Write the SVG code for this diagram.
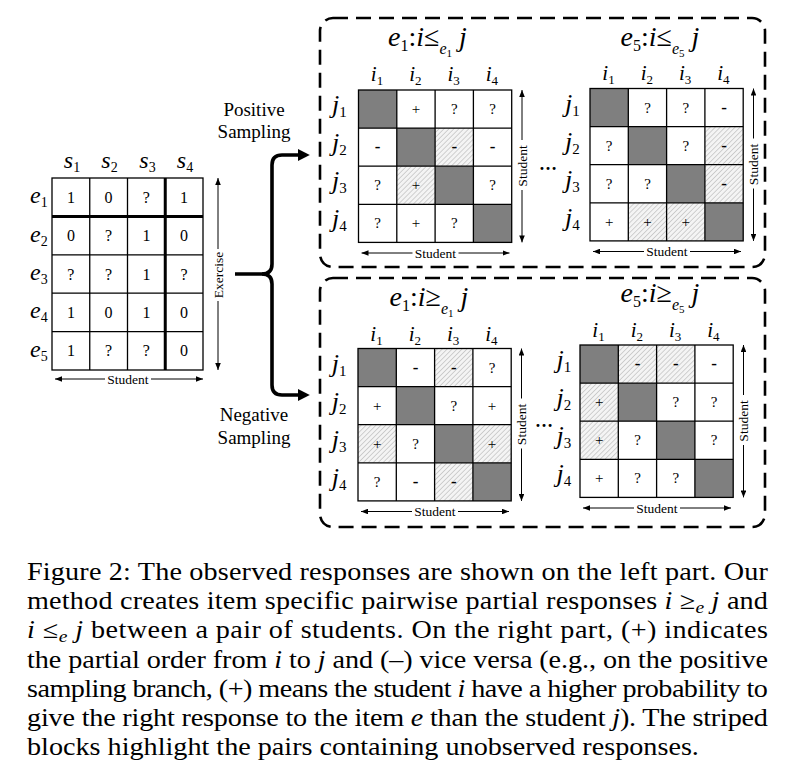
<svg xmlns="http://www.w3.org/2000/svg" xmlns:xlink="http://www.w3.org/1999/xlink" width="790" height="778" viewBox="0 0 790 778">
<style>
.t{font-family:"Liberation Serif","Times New Roman",serif;fill:#000}
.it{font-style:italic}
.s{font-family:"Liberation Serif","Times New Roman",serif;font-size:15px;text-anchor:middle}
.m{font-family:"Liberation Serif","Times New Roman",serif;font-size:17px;font-weight:bold;text-anchor:middle}
.v{font-family:"Liberation Serif","Times New Roman",serif;font-size:16px;text-anchor:middle}
.ax{stroke:#000;stroke-width:1;fill:none;marker-start:url(#ah);marker-end:url(#ah)}
.lbl{font-family:"Liberation Serif","Times New Roman",serif;font-size:13.5px;text-anchor:middle}
.gl{stroke:#000;stroke-width:1.3;fill:none}
.dark{fill:#7f7f7f}
.hat{fill:url(#hatch)}
.box{fill:none;stroke:#000;stroke-width:2.6;stroke-dasharray:15 8}
.cap{font-family:"Liberation Serif","Times New Roman",serif;font-size:24.5px}
</style>
<defs>
<pattern id="hatch" patternUnits="userSpaceOnUse" width="3.5" height="3.5" patternTransform="rotate(45)">
<rect width="3.5" height="3.5" fill="#f4f4f4"/>
<line x1="0" y1="0" x2="0" y2="3.5" stroke="#bcbcbc" stroke-width="1.3"/>
</pattern>
<marker id="ah" viewBox="0 0 10 8" refX="10" refY="4" markerWidth="7" markerHeight="5.6" markerUnits="userSpaceOnUse" orient="auto-start-reverse">
<path d="M0,0 L10,4 L0,8 z" fill="#000"/>
</marker>
<marker id="bah" viewBox="0 0 10 10" refX="1" refY="5" markerWidth="12" markerHeight="12" markerUnits="userSpaceOnUse" orient="auto">
<path d="M0,0 L10,5 L0,10 z" fill="#000"/>
</marker>
<g id="diag4">
<rect class="dark" x="0" y="0" width="38.3" height="38.1"/>
<rect class="dark" x="38.3" y="38.1" width="38.3" height="38.1"/>
<rect class="dark" x="76.6" y="76.2" width="38.3" height="38.1"/>
<rect class="dark" x="114.9" y="114.3" width="38.3" height="38.1"/>
</g>
<g id="grid4">
<rect class="gl" x="0" y="0" width="153.2" height="152.4"/>
<path class="gl" d="M38.3,0V152.4M76.6,0V152.4M114.9,0V152.4M0,38.1H153.2M0,76.2H153.2M0,114.3H153.2"/>
</g>
<g id="axes4">
<line class="ax" x1="163.5" y1="0" x2="163.5" y2="152.4"/>
<line class="ax" x1="3" y1="163" x2="151" y2="163"/>
<rect x="142" y="50" width="14" height="50" fill="#fff" transform="translate(14.5,0)"/>
<rect x="54" y="156" width="46" height="14" fill="#fff"/>
<text class="lbl" transform="translate(163.5,76) rotate(-90)" x="0" y="4.5">Student</text>
<text class="lbl" x="77" y="167.5">Student</text>
</g>
</defs>
<rect width="790" height="778" fill="#fff"/>

<g id="observed-matrix" transform="translate(52,178)">
<rect class="gl" x="0" y="0" width="151" height="192"/>
<path class="gl" d="M37.75,0V192M75.5,0V192M0,76.8H151M0,115.2H151M0,153.6H151"/>
<path d="M113.25,0V192M0,38.4H151" stroke="#000" stroke-width="3" fill="none"/>
<g class="v">
<text x="18.9" y="24.7">1</text><text x="56.6" y="24.7">0</text><text x="94.4" y="24.7">?</text><text x="132.1" y="24.7">1</text>
<text x="18.9" y="63.1">0</text><text x="56.6" y="63.1">?</text><text x="94.4" y="63.1">1</text><text x="132.1" y="63.1">0</text>
<text x="18.9" y="101.5">?</text><text x="56.6" y="101.5">?</text><text x="94.4" y="101.5">1</text><text x="132.1" y="101.5">?</text>
<text x="18.9" y="139.9">1</text><text x="56.6" y="139.9">0</text><text x="94.4" y="139.9">1</text><text x="132.1" y="139.9">0</text>
<text x="18.9" y="178.3">1</text><text x="56.6" y="178.3">?</text><text x="94.4" y="178.3">?</text><text x="132.1" y="178.3">0</text>
</g>
<g class="t" font-size="24" text-anchor="middle">
<text x="20" y="-10"><tspan class="it">s</tspan><tspan font-size="14" dy="4">1</tspan></text>
<text x="57.5" y="-10"><tspan class="it">s</tspan><tspan font-size="14" dy="4">2</tspan></text>
<text x="95.5" y="-10"><tspan class="it">s</tspan><tspan font-size="14" dy="4">3</tspan></text>
<text x="133" y="-10"><tspan class="it">s</tspan><tspan font-size="14" dy="4">4</tspan></text>
</g>
<g class="t" font-size="24">
<text x="-22" y="25.2"><tspan class="it">e</tspan><tspan font-size="14" dy="4">1</tspan></text>
<text x="-22" y="63.6"><tspan class="it">e</tspan><tspan font-size="14" dy="4">2</tspan></text>
<text x="-22" y="102"><tspan class="it">e</tspan><tspan font-size="14" dy="4">3</tspan></text>
<text x="-22" y="140.4"><tspan class="it">e</tspan><tspan font-size="14" dy="4">4</tspan></text>
<text x="-22" y="178.8"><tspan class="it">e</tspan><tspan font-size="14" dy="4">5</tspan></text>
</g>
<line class="ax" x1="166" y1="0" x2="166" y2="192"/>
<rect x="159" y="71" width="14" height="52" fill="#fff"/>
<text class="lbl" transform="translate(166,97) rotate(-90)" x="0" y="4.5">Exercise</text>
<line class="ax" x1="3" y1="201" x2="151" y2="201"/>
<rect x="53" y="194" width="46" height="14" fill="#fff"/>
<text class="lbl" x="76" y="205.5">Student</text>
</g>

<g id="connectors">
<path d="M235,274 H262 Q272,274 272,264 V165 Q272,155 282,155 H299" fill="none" stroke="#000" stroke-width="3.6" stroke-linejoin="round" marker-end="url(#bah)"/>
<path d="M262,274 Q272,274 272,284 V385 Q272,395 282,395 H299" fill="none" stroke="#000" stroke-width="3.6" stroke-linejoin="round" marker-end="url(#bah)"/>
</g>

<g id="label-positive" class="t" font-size="19" text-anchor="middle">
<text x="254" y="116">Positive</text>
<text x="254" y="138">Sampling</text>
</g>
<g id="label-negative" class="t" font-size="19" text-anchor="middle">
<text x="254" y="421">Negative</text>
<text x="254" y="444">Sampling</text>
</g>

<g id="positive-box">
<rect class="box" x="320" y="18" width="445" height="249" rx="13"/>
</g>
<g id="negative-box">
<rect class="box" x="320" y="278" width="445" height="249" rx="13"/>
</g>

<g id="title-pos-e1"><text class="t" x="427.5" y="46" font-size="28" text-anchor="middle"><tspan class="it">e</tspan><tspan font-size="16" dy="5">1</tspan><tspan dy="-5">:</tspan><tspan class="it">i</tspan><tspan>≤</tspan><tspan class="it" font-size="16" dy="8">e</tspan><tspan font-size="11" dy="3">1</tspan><tspan class="it" dy="-11"> j</tspan></text></g>
<g id="title-pos-e5"><text class="t" x="660" y="46" font-size="28" text-anchor="middle"><tspan class="it">e</tspan><tspan font-size="16" dy="5">5</tspan><tspan dy="-5">:</tspan><tspan class="it">i</tspan><tspan>≤</tspan><tspan class="it" font-size="16" dy="8">e</tspan><tspan font-size="11" dy="3">5</tspan><tspan class="it" dy="-11"> j</tspan></text></g>
<g id="title-neg-e1"><text class="t" x="429" y="306" font-size="28" text-anchor="middle"><tspan class="it">e</tspan><tspan font-size="16" dy="5">1</tspan><tspan dy="-5">:</tspan><tspan class="it">i</tspan><tspan>≥</tspan><tspan class="it" font-size="16" dy="8">e</tspan><tspan font-size="11" dy="3">1</tspan><tspan class="it" dy="-11"> j</tspan></text></g>
<g id="title-neg-e5"><text class="t" x="660" y="302" font-size="28" text-anchor="middle"><tspan class="it">e</tspan><tspan font-size="16" dy="5">5</tspan><tspan dy="-5">:</tspan><tspan class="it">i</tspan><tspan>≥</tspan><tspan class="it" font-size="16" dy="8">e</tspan><tspan font-size="11" dy="3">5</tspan><tspan class="it" dy="-11"> j</tspan></text></g>

<g id="pos-e1-matrix" transform="translate(358.5,90)">
<use href="#diag4"/>
<rect class="hat" x="76.6" y="38.1" width="38.3" height="38.1"/>
<rect class="hat" x="38.3" y="76.2" width="38.3" height="38.1"/>
<use href="#grid4"/>
<text class="s" x="57.5" y="24.1">+</text><text class="s" x="95.8" y="24.1">?</text><text class="s" x="134.1" y="24.1">?</text>
<text class="m" x="19.2" y="62.2">-</text><text class="m" x="95.8" y="62.2">-</text><text class="m" x="134.1" y="62.2">-</text>
<text class="s" x="19.2" y="100.3">?</text><text class="s" x="57.5" y="100.3">+</text><text class="s" x="134.1" y="100.3">?</text>
<text class="s" x="19.2" y="138.4">?</text><text class="s" x="57.5" y="138.4">+</text><text class="s" x="95.8" y="138.4">?</text>
<g class="t" font-size="21" text-anchor="middle">
<text x="18.5" y="-9"><tspan class="it">i</tspan><tspan font-size="13" dy="4">1</tspan></text>
<text x="56.8" y="-9"><tspan class="it">i</tspan><tspan font-size="13" dy="4">2</tspan></text>
<text x="95.1" y="-9"><tspan class="it">i</tspan><tspan font-size="13" dy="4">3</tspan></text>
<text x="133.4" y="-9"><tspan class="it">i</tspan><tspan font-size="13" dy="4">4</tspan></text>
</g>
<g class="t" font-size="26">
<text x="-26.5" y="23"><tspan class="it">j</tspan><tspan font-size="15" dy="4">1</tspan></text>
<text x="-26.5" y="61"><tspan class="it">j</tspan><tspan font-size="15" dy="4">2</tspan></text>
<text x="-26.5" y="99"><tspan class="it">j</tspan><tspan font-size="15" dy="4">3</tspan></text>
<text x="-26.5" y="137"><tspan class="it">j</tspan><tspan font-size="15" dy="4">4</tspan></text>
</g>
<use href="#axes4"/>
</g>

<g id="pos-e5-matrix" transform="translate(590,88.5)">
<use href="#diag4"/>
<rect class="hat" x="114.9" y="38.1" width="38.3" height="38.1"/>
<rect class="hat" x="114.9" y="76.2" width="38.3" height="38.1"/>
<rect class="hat" x="38.3" y="114.3" width="38.3" height="38.1"/>
<rect class="hat" x="76.6" y="114.3" width="38.3" height="38.1"/>
<use href="#grid4"/>
<text class="s" x="57.5" y="24.1">?</text><text class="s" x="95.8" y="24.1">?</text><text class="m" x="134.1" y="24.1">-</text>
<text class="s" x="19.2" y="62.2">?</text><text class="s" x="95.8" y="62.2">?</text><text class="m" x="134.1" y="62.2">-</text>
<text class="s" x="19.2" y="100.3">?</text><text class="s" x="57.5" y="100.3">?</text><text class="m" x="134.1" y="100.3">-</text>
<text class="s" x="19.2" y="138.4">+</text><text class="s" x="57.5" y="138.4">+</text><text class="s" x="95.8" y="138.4">+</text>
<g class="t" font-size="21" text-anchor="middle">
<text x="18.5" y="-8.5"><tspan class="it">i</tspan><tspan font-size="13" dy="4">1</tspan></text>
<text x="56.8" y="-8.5"><tspan class="it">i</tspan><tspan font-size="13" dy="4">2</tspan></text>
<text x="95.1" y="-8.5"><tspan class="it">i</tspan><tspan font-size="13" dy="4">3</tspan></text>
<text x="133.4" y="-8.5"><tspan class="it">i</tspan><tspan font-size="13" dy="4">4</tspan></text>
</g>
<g class="t" font-size="26">
<text x="-25" y="23"><tspan class="it">j</tspan><tspan font-size="15" dy="4">1</tspan></text>
<text x="-25" y="61"><tspan class="it">j</tspan><tspan font-size="15" dy="4">2</tspan></text>
<text x="-25" y="99"><tspan class="it">j</tspan><tspan font-size="15" dy="4">3</tspan></text>
<text x="-25" y="137"><tspan class="it">j</tspan><tspan font-size="15" dy="4">4</tspan></text>
</g>
<use href="#axes4"/>
</g>

<g id="neg-e1-matrix" transform="translate(358,348.5)">
<use href="#diag4"/>
<rect class="hat" x="76.6" y="0" width="38.3" height="38.1"/>
<rect class="hat" x="0" y="76.2" width="38.3" height="38.1"/>
<rect class="hat" x="114.9" y="76.2" width="38.3" height="38.1"/>
<rect class="hat" x="76.6" y="114.3" width="38.3" height="38.1"/>
<use href="#grid4"/>
<text class="m" x="57.5" y="24.1">-</text><text class="m" x="95.8" y="24.1">-</text><text class="s" x="134.1" y="24.1">?</text>
<text class="s" x="19.2" y="62.2">+</text><text class="s" x="95.8" y="62.2">?</text><text class="s" x="134.1" y="62.2">+</text>
<text class="s" x="19.2" y="100.3">+</text><text class="s" x="57.5" y="100.3">?</text><text class="s" x="134.1" y="100.3">+</text>
<text class="s" x="19.2" y="138.4">?</text><text class="m" x="57.5" y="138.4">-</text><text class="m" x="95.8" y="138.4">-</text>
<g class="t" font-size="21" text-anchor="middle">
<text x="18.5" y="-7.5"><tspan class="it">i</tspan><tspan font-size="13" dy="4">1</tspan></text>
<text x="56.8" y="-7.5"><tspan class="it">i</tspan><tspan font-size="13" dy="4">2</tspan></text>
<text x="95.1" y="-7.5"><tspan class="it">i</tspan><tspan font-size="13" dy="4">3</tspan></text>
<text x="133.4" y="-7.5"><tspan class="it">i</tspan><tspan font-size="13" dy="4">4</tspan></text>
</g>
<g class="t" font-size="26">
<text x="-26.3" y="23"><tspan class="it">j</tspan><tspan font-size="15" dy="4">1</tspan></text>
<text x="-26.3" y="61"><tspan class="it">j</tspan><tspan font-size="15" dy="4">2</tspan></text>
<text x="-26.3" y="99"><tspan class="it">j</tspan><tspan font-size="15" dy="4">3</tspan></text>
<text x="-26.3" y="137"><tspan class="it">j</tspan><tspan font-size="15" dy="4">4</tspan></text>
</g>
<use href="#axes4"/>
</g>

<g id="neg-e5-matrix" transform="translate(580,345)">
<use href="#diag4"/>
<rect class="hat" x="38.3" y="0" width="38.3" height="38.1"/>
<rect class="hat" x="76.6" y="0" width="38.3" height="38.1"/>
<rect class="hat" x="0" y="38.1" width="38.3" height="38.1"/>
<rect class="hat" x="0" y="76.2" width="38.3" height="38.1"/>
<use href="#grid4"/>
<text class="m" x="57.5" y="24.1">-</text><text class="m" x="95.8" y="24.1">-</text><text class="m" x="134.1" y="24.1">-</text>
<text class="s" x="19.2" y="62.2">+</text><text class="s" x="95.8" y="62.2">?</text><text class="s" x="134.1" y="62.2">?</text>
<text class="s" x="19.2" y="100.3">+</text><text class="s" x="57.5" y="100.3">?</text><text class="s" x="134.1" y="100.3">?</text>
<text class="s" x="19.2" y="138.4">+</text><text class="s" x="57.5" y="138.4">?</text><text class="s" x="95.8" y="138.4">?</text>
<g class="t" font-size="21" text-anchor="middle">
<text x="18.5" y="-8.3"><tspan class="it">i</tspan><tspan font-size="13" dy="4">1</tspan></text>
<text x="56.8" y="-8.3"><tspan class="it">i</tspan><tspan font-size="13" dy="4">2</tspan></text>
<text x="95.1" y="-8.3"><tspan class="it">i</tspan><tspan font-size="13" dy="4">3</tspan></text>
<text x="133.4" y="-8.3"><tspan class="it">i</tspan><tspan font-size="13" dy="4">4</tspan></text>
</g>
<g class="t" font-size="26">
<text x="-23.5" y="23"><tspan class="it">j</tspan><tspan font-size="15" dy="4">1</tspan></text>
<text x="-23.5" y="61"><tspan class="it">j</tspan><tspan font-size="15" dy="4">2</tspan></text>
<text x="-23.5" y="99"><tspan class="it">j</tspan><tspan font-size="15" dy="4">3</tspan></text>
<text x="-23.5" y="137"><tspan class="it">j</tspan><tspan font-size="15" dy="4">4</tspan></text>
</g>
<use href="#axes4"/>
</g>

<g id="ellipsis-pos"><text class="t" x="548" y="170" font-size="18" font-weight="bold" text-anchor="middle">…</text></g>
<g id="ellipsis-neg"><text class="t" x="544" y="427" font-size="18" font-weight="bold" text-anchor="middle">…</text></g>

<g id="caption" transform="scale(1.15,1)">
<text class="cap" x="23.5" y="580" textLength="644.3" lengthAdjust="spacing">Figure 2: The observed responses are shown on the left part. Our</text>
<text class="cap" x="23.5" y="609.2" textLength="644.3" lengthAdjust="spacing">method creates item specific pairwise partial responses <tspan class="it">i</tspan> ≥<tspan class="it" font-size="17" dy="4">e</tspan><tspan dy="-4"> </tspan><tspan class="it">j</tspan> and</text>
<text class="cap" x="23.5" y="638.4" textLength="644.3" lengthAdjust="spacing"><tspan class="it">i</tspan> ≤<tspan class="it" font-size="17" dy="4">e</tspan><tspan dy="-4"> </tspan><tspan class="it">j</tspan> between a pair of students. On the right part, (+) indicates</text>
<text class="cap" x="23.5" y="667.6" textLength="644.3" lengthAdjust="spacing">the partial order from <tspan class="it">i</tspan> to <tspan class="it">j</tspan> and (–) vice versa (e.g., on the positive</text>
<text class="cap" x="23.5" y="696.8" textLength="644.3" lengthAdjust="spacing">sampling branch, (+) means the student <tspan class="it">i</tspan> have a higher probability to</text>
<text class="cap" x="23.5" y="726" textLength="644.3" lengthAdjust="spacing">give the right response to the item <tspan class="it">e</tspan> than the student <tspan class="it">j</tspan>). The striped</text>
<text class="cap" x="23.5" y="755.2">blocks highlight the pairs containing unobserved responses.</text>
</g>
</svg>
